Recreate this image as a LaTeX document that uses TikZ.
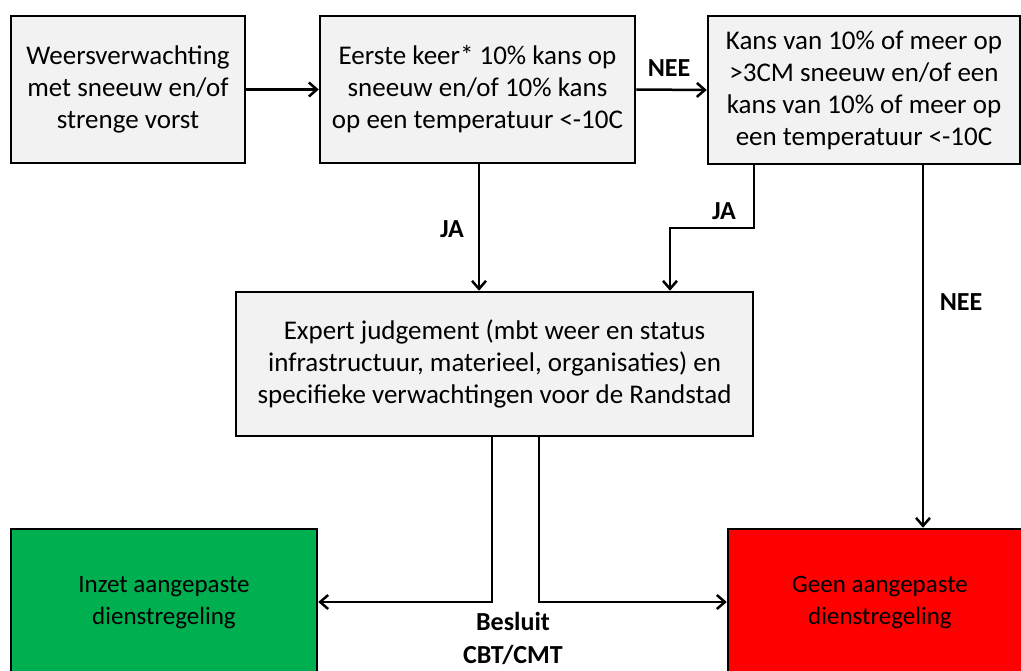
\documentclass[tikz,border=0pt]{standalone}
\usepackage{fontspec}
\setmainfont{Carlito}
\usetikzlibrary{arrows.meta}
\definecolor{boxgray}{HTML}{F2F2F2}
\definecolor{okgreen}{HTML}{00B050}
\definecolor{nored}{HTML}{FF0000}
\begin{document}
\begin{tikzpicture}[x=1pt,y=-1pt,
  box/.style={draw=black,line width=2.5pt,fill=boxgray,align=center,inner sep=0pt,
    font=\fontsize{27}{32}\selectfont},
  endbox/.style={box,font=\fontsize{25}{32}\selectfont},
  lbl/.style={font=\fontsize{26}{33}\selectfont\bfseries,inner sep=0pt},
  conn/.style={line width=2.5pt,-{Straight Barb[length=8pt,width=14pt,line width=2.5pt]}}]
\clip (0,0) rectangle (1021,671);
\fill[white] (0,0) rectangle (1021,671);
\node[box,minimum width=234pt,minimum height=147pt] (weer) at (128,89.5)
  {Weersverwachting\\met sneeuw en/of\\strenge vorst};
\node[box,minimum width=315pt,minimum height=147pt] (eerste) at (477.5,89.5)
  {Eerste keer* 10\% kans op\\sneeuw en/of 10\% kans\\op een temperatuur <-10C};
\node[box,minimum width=312pt,minimum height=148pt] (kans) at (864,90)
  {Kans van 10\% of meer op\\>3CM sneeuw en/of een\\kans van 10\% of meer op\\een temperatuur <-10C};
\node[box,minimum width=517pt,minimum height=144pt] (expert) at (494.5,364)
  {Expert judgement (mbt weer en status\\infrastructuur, materieel, organisaties) en\\specifieke verwachtingen voor de Randstad};
\node[endbox,fill=okgreen,minimum width=306pt,minimum height=147pt] (inzet) at (164,602.5)
  {Inzet aangepaste\\dienstregeling};
\node[endbox,fill=nored,minimum width=304pt,minimum height=147pt] (geen) at (880,602.5)
  {Geen aangepaste\\dienstregeling};

\draw[conn] (weer.east) -- (eerste.west);
\draw[conn] (eerste.east) -- (kans.west);
\draw[conn] (eerste.south -| 479,0) -- (expert.north -| 479,0);
\coordinate (ja2a) at (754,228);
\coordinate (ja2b) at (670,228);
\draw[conn] (kans.south -| ja2a) -- (ja2a) -- (ja2b) -- (expert.north -| ja2b);
\draw[conn] (kans.south -| 923,0) -- (geen.north -| 923,0);
\coordinate (bl) at (492,602);
\coordinate (br) at (539,602);
\draw[conn] (expert.south -| bl) -- (bl) -- (inzet.east |- bl);
\draw[conn] (expert.south -| br) -- (br) -- (geen.west |- br);

\node[lbl] (nee1) at (669,68) {NEE};
\node[lbl] (ja1) at (452,229) {JA};
\node[lbl] (ja2) at (724,211) {JA};
\node[lbl] (nee2) at (961,302) {NEE};
\node[lbl,align=center] (besluit) at (513,638.5) {Besluit\\CBT/CMT};
\end{tikzpicture}
\end{document}
